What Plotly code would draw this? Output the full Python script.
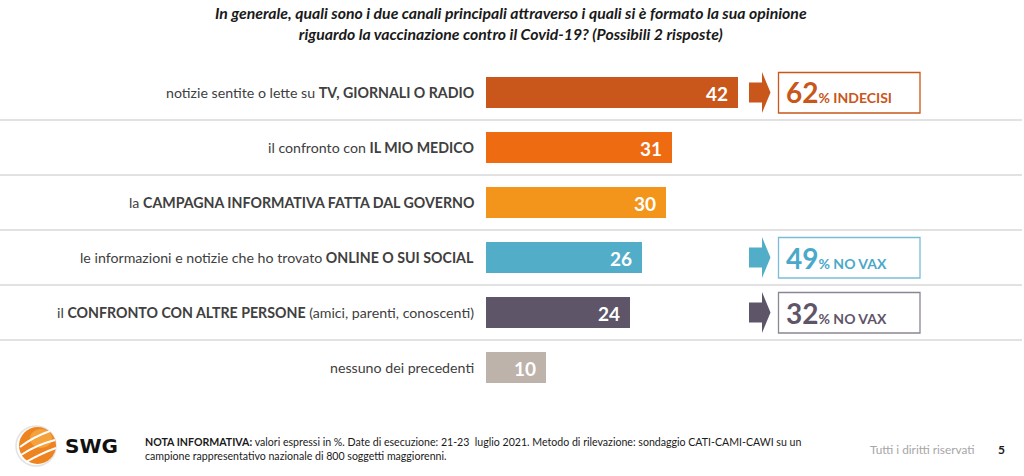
import plotly.graph_objects as go

# ---------------- data ----------------
categories = [
    "notizie sentite o lette su <b>TV, GIORNALI O RADIO</b>",
    "il confronto con <b>IL MIO MEDICO</b>",
    "la <b>CAMPAGNA INFORMATIVA FATTA DAL GOVERNO</b>",
    "le informazioni e notizie che ho trovato <b>ONLINE O SUI SOCIAL</b>",
    "il <b>CONFRONTO CON ALTRE PERSONE</b> (amici, parenti, conoscenti)",
    "nessuno dei precedenti",
]
values = [42, 31, 30, 26, 24, 10]
bar_colors = ["#C9561A", "#EE6B12", "#F4951B", "#52ADC9", "#5F5568", "#BEB3AB"]

callout_rows = [0, 3, 4]
callout_values = [62, 49, 32]
callout_labels = ["% INDECISI", "% NO VAX", "% NO VAX"]
callout_text_colors = ["#C9561A", "#4AA9C8", "#5F5568"]
callout_border_colors = ["#C9561A", "#79BED6", "#8C8592"]

title_text = ("<b><i>In generale, quali sono i due canali principali attraverso i quali si è formato la sua opinione"
              "<br>riguardo la vaccinazione contro il Covid-19? (Possibili 2 risposte)</i></b>")
note_text = ("<b>NOTA INFORMATIVA:</b> valori espressi in %. Date di esecuzione: 21-23  luglio 2021. "
             "Metodo di rilevazione: sondaggio CATI-CAMI-CAWI su un<br>"
             "campione rappresentativo nazionale di 800 soggetti maggiorenni.")

# ---------------- layout geometry ----------------
W, H = 1024, 476
FONT = "Lato"
X0_PX = 486.0        # pixel position of value 0
PX_PER_UNIT = 6.0
ROW0_PX = 92.5       # center of first row
ROW_STEP = 55.0


def px(x):
    """screen px -> paper x"""
    return x / W


def py(y):
    """screen px -> paper y"""
    return 1 - y / H


def row_center(i):
    return ROW0_PX + ROW_STEP * i


fig = go.Figure()
fig.add_trace(go.Bar(
    x=values,
    y=categories,
    orientation="h",
    marker=dict(color=bar_colors, line=dict(width=0)),
    width=0.565,
    hoverinfo="skip",
    showlegend=False,
))

annotations = []
shapes = []

# category labels and value labels
for cat, v in zip(categories, values):
    annotations.append(dict(
        x=0, y=cat, xref="x", yref="y", text=cat, showarrow=False,
        xanchor="right", yanchor="middle", xshift=-10,
        font=dict(family=FONT, size=14.2, color="#404040"),
    ))
    annotations.append(dict(
        x=v, y=cat, xref="x", yref="y", text=f"<b>{v}</b>", showarrow=False,
        xanchor="right", yanchor="middle", xshift=-8, yshift=-1,
        font=dict(family=FONT, size=19, color="#FFFFFF"),
    ))

# separator lines
for k in range(len(categories) - 1):
    shapes.append(dict(
        type="line", xref="paper", yref="y", x0=0, x1=px(1022),
        y0=k + 0.5, y1=k + 0.5, line=dict(color="#D9D9D9", width=1.6), layer="below",
    ))

# callouts: arrow + box + text
for r, val, lab, tc, bc in zip(callout_rows, callout_values, callout_labels,
                                callout_text_colors, callout_border_colors):
    cy = row_center(r)
    color = bar_colors[r]
    path = (f"M {px(749)} {py(cy - 10)} L {px(762)} {py(cy - 10)} L {px(762)} {py(cy - 20.5)} "
            f"L {px(770.5)} {py(cy)} L {px(762)} {py(cy + 20.5)} L {px(762)} {py(cy + 10)} "
            f"L {px(749)} {py(cy + 10)} Z")
    shapes.append(dict(type="path", xref="paper", yref="paper", path=path,
                       fillcolor=color, line=dict(width=0)))
    shapes.append(dict(type="rect", xref="paper", yref="paper",
                       x0=px(778.5), x1=px(920), y0=py(cy + 20.5), y1=py(cy - 20),
                       line=dict(color=bc, width=1.3), fillcolor="rgba(0,0,0,0)"))
    annotations.append(dict(
        x=px(784), y=py(cy), xref="paper", yref="paper", showarrow=False,
        xanchor="left", yanchor="middle",
        text=(f"<b><span style='font-size:28px'>{val}</span>"
              f"<span style='font-size:14px'>{lab}</span></b>"),
        font=dict(family=FONT, size=14, color=tc),
    ))

# title
annotations.append(dict(
    x=px(511), y=py(23), xref="paper", yref="paper", showarrow=False,
    xanchor="center", yanchor="middle", text=title_text,
    font=dict(family=FONT, size=15.8, color="#1A1A1A"),
))

# footer
annotations.append(dict(
    x=px(143), y=py(449), xref="paper", yref="paper", showarrow=False,
    xanchor="left", yanchor="middle", align="left", text=note_text,
    font=dict(family=FONT, size=10.6, color="#1A1A1A"),
))
annotations.append(dict(
    x=px(977), y=py(449), xref="paper", yref="paper", showarrow=False,
    xanchor="right", yanchor="middle", text="Tutti i diritti riservati",
    font=dict(family=FONT, size=11.8, color="#A6A6A6"),
))
annotations.append(dict(
    x=px(1001), y=py(449), xref="paper", yref="paper", showarrow=False,
    xanchor="center", yanchor="middle", text="<b>5</b>",
    font=dict(family=FONT, size=12, color="#1A1A1A"),
))

# SWG logo
annotations.append(dict(
    x=px(63), y=py(446), xref="paper", yref="paper", showarrow=False,
    xanchor="left", yanchor="middle", text="<b>SWG</b>",
    font=dict(family="DejaVu Sans", size=20, color="#111111"),
))
shapes.append(dict(type="circle", xref="paper", yref="paper",
                   x0=px(16), x1=px(56), y0=py(466), y1=py(426),
                   line=dict(color="#E3E3E3", width=1.5), fillcolor="rgba(0,0,0,0)"))
shapes.append(dict(type="circle", xref="paper", yref="paper",
                   x0=px(19), x1=px(56), y0=py(464), y1=py(427),
                   line=dict(width=0), fillcolor="#EE8420"))
shapes.append(dict(type="circle", xref="paper", yref="paper",
                   x0=px(30), x1=px(52), y0=py(448), y1=py(429),
                   line=dict(width=0), fillcolor="#F5A23C"))
for (xa, ya, xc, yc, xb, yb) in [(20, 447, 33, 437, 50, 431),
                                  (21, 455, 36, 445, 55, 440),
                                  (26, 462, 42, 453, 56, 448)]:
    shapes.append(dict(type="path", xref="paper", yref="paper",
                       path=f"M {px(xa)} {py(ya)} Q {px(xc)} {py(yc)} {px(xb)} {py(yb)}",
                       line=dict(color="#FFFFFF", width=2)))

fig.update_layout(
    width=W, height=H,
    margin=dict(l=0, r=0, t=0, b=0),
    paper_bgcolor="#FFFFFF", plot_bgcolor="#FFFFFF",
    xaxis=dict(range=[-X0_PX / PX_PER_UNIT, (W - X0_PX) / PX_PER_UNIT],
               visible=False, fixedrange=True),
    yaxis=dict(type="category", categoryorder="array", categoryarray=categories,
               range=[(H - ROW0_PX) / ROW_STEP, -ROW0_PX / ROW_STEP],
               visible=False, fixedrange=True),
    shapes=shapes,
    annotations=annotations,
    bargap=0,
)

fig.write_html(
    "out.html",
    config={"displayModeBar": False},
    post_script="document.body.style.margin='0';document.body.style.overflow='hidden';",
)
